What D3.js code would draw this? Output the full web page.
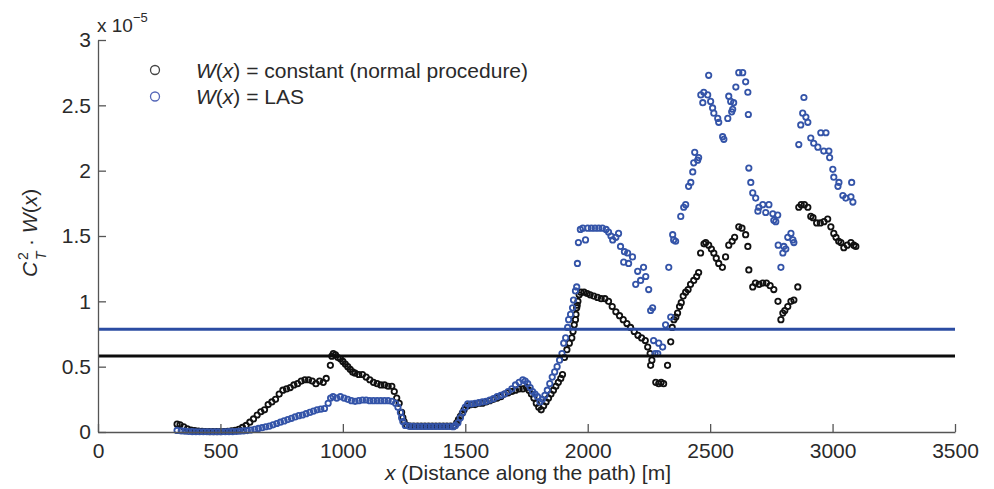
<!DOCTYPE html>
<html>
<head>
<meta charset="utf-8">
<script src="https://cdn.jsdelivr.net/npm/d3@7"></script>
<style>
  html, body { margin: 0; padding: 0; background: #fff; }
  svg { display: block; font-family: "Liberation Sans", Arial, Helvetica, sans-serif; }
</style>
</head>
<body>
<svg id="chart" width="994" height="489"></svg>
<script>
// C_T^2 * W(x) along the path, in units of 1e-5: [distance m, value]
const constWeight = [
  [323,0.06],[335,0.055],[350,0.04],[365,0.025],[380,0.015],[395,0.01],[410,0.006],[425,0.005],[440,0.004],[455,0.003],
  [470,0.003],[485,0.003],[500,0.003],[515,0.004],[530,0.005],[545,0.008],[560,0.012],[575,0.02],[590,0.035],[605,0.05],
  [620,0.075],[635,0.10],[650,0.13],[665,0.155],[680,0.17],[695,0.21],[710,0.23],[725,0.25],[740,0.29],[755,0.32],
  [770,0.33],[785,0.34],[800,0.36],[815,0.37],[830,0.39],[845,0.40],[860,0.40],[875,0.39],[890,0.37],[905,0.39],
  [920,0.38],[932,0.41],[949,0.51],[955,0.58],[961,0.60],[970,0.59],[980,0.57],[990,0.56],[1000,0.54],[1010,0.52],
  [1020,0.50],[1030,0.48],[1040,0.46],[1050,0.45],[1065,0.44],[1080,0.44],[1095,0.42],[1110,0.40],[1125,0.38],[1140,0.37],
  [1155,0.36],[1170,0.36],[1185,0.35],[1200,0.35],[1210,0.31],[1220,0.26],[1230,0.22],[1240,0.15],[1245,0.11],[1250,0.08],
  [1260,0.05],[1275,0.045],[1290,0.045],[1305,0.045],[1320,0.045],[1335,0.045],[1350,0.045],[1365,0.045],[1380,0.045],
  [1395,0.045],[1410,0.045],[1425,0.045],[1440,0.045],[1455,0.045],[1465,0.07],[1472,0.095],[1480,0.12],[1488,0.145],[1495,0.17],[1510,0.20],
  [1525,0.21],[1540,0.21],[1555,0.22],[1570,0.22],[1585,0.23],[1600,0.24],[1615,0.25],[1630,0.26],[1645,0.27],[1660,0.29],
  [1675,0.30],[1690,0.31],[1705,0.32],[1720,0.33],[1735,0.33],[1750,0.34],[1760,0.32],[1770,0.29],[1780,0.26],[1790,0.22],
  [1800,0.19],[1810,0.17],[1820,0.20],[1830,0.23],[1840,0.26],[1850,0.29],[1860,0.32],[1870,0.35],[1880,0.38],[1890,0.41],
  [1897,0.44],[1905,0.57],[1915,0.63],[1925,0.68],[1935,0.72],[1940,0.77],[1945,0.82],[1950,0.86],[1952,0.90],[1955,0.95],
  [1957,0.97],[1960,1.00],[1965,1.05],[1972,1.07],[1985,1.07],[1998,1.06],[2010,1.05],[2025,1.04],[2040,1.03],[2055,1.02],
  [2070,1.02],[2085,1.00],[2100,0.96],[2115,0.92],[2130,0.89],[2145,0.86],[2160,0.83],[2175,0.80],[2190,0.77],[2205,0.74],
  [2220,0.72],[2235,0.70],[2245,0.65],[2255,0.60],[2262,0.55],[2257,0.51],[2278,0.38],[2290,0.37],[2300,0.38],[2310,0.37],
  [2326,0.51],[2339,0.69],[2345,0.80],[2352,0.86],[2360,0.88],[2367,0.91],[2375,0.96],[2382,0.99],[2390,1.04],[2400,1.07],
  [2410,1.09],[2420,1.13],[2433,1.16],[2445,1.19],[2453,1.22],[2461,1.37],[2475,1.44],[2482,1.45],[2494,1.43],[2505,1.40],
  [2515,1.37],[2525,1.33],[2535,1.29],[2550,1.26],[2563,1.34],[2576,1.43],[2590,1.46],[2600,1.49],[2617,1.57],[2630,1.56],
  [2645,1.51],[2654,1.42],[2658,1.24],[2674,1.11],[2685,1.14],[2700,1.13],[2715,1.14],[2730,1.14],[2745,1.12],[2760,1.09],
  [2777,1.00],[2789,0.86],[2797,0.91],[2805,0.93],[2817,0.96],[2830,1.00],[2842,1.01],[2858,1.11],[2862,1.72],[2872,1.74],
  [2885,1.74],[2899,1.72],[2911,1.65],[2920,1.64],[2935,1.60],[2950,1.60],[2965,1.61],[2980,1.63],[2993,1.57],[3005,1.52],
  [3014,1.49],[3025,1.46],[3034,1.45],[3046,1.41],[3060,1.43],[3075,1.45],[3087,1.43],[3095,1.42]
];

const lasWeight = [
  [323,0.012],[340,0.009],[355,0.006],[370,0.004],[385,0.003],[400,0.002],[415,0.002],[430,0.002],[445,0.002],[460,0.002],
  [475,0.002],[490,0.002],[505,0.002],[520,0.002],[535,0.003],[550,0.003],[565,0.004],[580,0.006],[595,0.008],[610,0.011],
  [625,0.015],[640,0.02],[655,0.027],[670,0.033],[685,0.04],[700,0.045],[715,0.055],[730,0.065],[745,0.075],[760,0.085],
  [775,0.095],[790,0.105],[805,0.115],[820,0.125],[835,0.13],[850,0.14],[865,0.15],[880,0.16],[895,0.17],[910,0.175],
  [925,0.18],[940,0.22],[950,0.26],[960,0.27],[975,0.26],[990,0.27],[1005,0.26],[1020,0.25],[1035,0.24],[1050,0.235],
  [1065,0.24],[1080,0.245],[1095,0.245],[1110,0.24],[1125,0.24],[1140,0.24],[1155,0.24],[1170,0.24],[1185,0.24],[1200,0.235],
  [1215,0.22],[1225,0.19],[1235,0.15],[1240,0.11],[1245,0.08],[1255,0.05],[1270,0.045],[1285,0.043],[1300,0.042],[1315,0.042],[1330,0.042],
  [1345,0.042],[1360,0.042],[1375,0.042],[1390,0.042],[1405,0.042],[1420,0.042],[1435,0.042],[1450,0.04],[1460,0.05],[1470,0.07],
  [1480,0.11],[1490,0.15],[1500,0.19],[1510,0.215],[1525,0.215],[1540,0.22],[1555,0.225],[1570,0.23],[1585,0.235],[1600,0.245],
  [1615,0.255],[1630,0.27],[1645,0.28],[1660,0.29],[1675,0.31],[1690,0.33],[1705,0.36],[1720,0.38],[1735,0.40],[1745,0.39],
  [1755,0.37],[1765,0.34],[1775,0.31],[1785,0.29],[1795,0.27],[1805,0.23],[1815,0.25],[1825,0.28],[1835,0.32],[1845,0.37],
  [1855,0.42],[1865,0.46],[1875,0.50],[1885,0.55],[1895,0.60],[1902,0.68],[1910,0.72],[1918,0.80],[1922,0.86],[1930,0.90],
  [1938,0.95],[1942,1.01],[1950,1.08],[1955,1.11],[1958,1.29],[1962,1.45],[1970,1.55],[1980,1.56],[1991,1.47],[2000,1.56],
  [2015,1.56],[2030,1.56],[2045,1.56],[2060,1.56],[2075,1.55],[2085,1.53],[2095,1.50],[2102,1.47],[2115,1.49],[2126,1.52],
  [2134,1.42],[2147,1.30],[2150,1.38],[2163,1.37],[2167,1.29],[2183,1.34],[2196,1.13],[2204,1.23],[2216,1.16],[2228,1.26],
  [2237,1.19],[2249,1.09],[2257,0.93],[2265,0.95],[2269,0.70],[2275,0.60],[2286,0.60],[2290,0.68],[2306,0.65],[2318,0.82],
  [2331,1.26],[2339,0.88],[2347,1.51],[2351,1.47],[2359,1.46],[2380,1.65],[2392,1.72],[2400,1.74],[2412,1.88],[2421,1.91],
  [2429,1.99],[2433,2.06],[2437,2.14],[2449,2.08],[2453,2.10],[2462,2.58],[2470,2.52],[2474,2.60],[2490,2.58],[2494,2.73],
  [2502,2.53],[2510,2.48],[2515,2.44],[2531,2.40],[2535,2.37],[2551,2.26],[2556,2.24],[2572,2.40],[2576,2.57],[2584,2.53],
  [2588,2.45],[2592,2.47],[2596,2.52],[2605,2.64],[2617,2.75],[2633,2.75],[2645,2.68],[2654,2.60],[2656,2.43],[2658,2.02],
  [2666,1.91],[2674,1.83],[2686,1.79],[2695,1.69],[2699,1.72],[2715,1.74],[2727,1.68],[2740,1.74],[2756,1.67],[2760,1.62],
  [2768,1.61],[2776,1.66],[2778,1.43],[2789,1.26],[2797,1.37],[2801,1.42],[2809,1.40],[2817,1.49],[2830,1.52],[2838,1.47],
  [2842,1.45],[2862,2.20],[2870,2.35],[2878,2.44],[2883,2.56],[2891,2.41],[2899,2.37],[2911,2.25],[2923,2.21],[2940,2.18],
  [2952,2.29],[2964,2.15],[2973,2.29],[2985,2.15],[2988,2.10],[3001,2.01],[3005,1.95],[3022,1.88],[3026,1.91],[3042,1.81],
  [3054,1.79],[3075,1.80],[3078,1.91],[3083,1.76]
];

// path averages of each weighting (same units)
const pathMeans = [0.582, 0.786];
const seriesColors = ["#111111", "#3454a8"];
const meanColors = ["#0c0c0c", "#2b4ca2"];
const legendLabels = ["constant (normal procedure)", "LAS"];

const xTicks = [0, 500, 1000, 1500, 2000, 2500, 3000, 3500];
const yTicks = [0, 0.5, 1, 1.5, 2, 2.5, 3];

const svg = d3.select("#chart");
const FONT = 21;
const textColor = "#2a2a2a";
const axisColor = "#555";

const x = d3.scaleLinear().domain([0, 3500]).range([98, 955]);
const y = d3.scaleLinear().domain([0, 3]).range([432, 40]);

// markers
const series = [constWeight, lasWeight];
series.forEach((pts, i) => {
  svg.append("g")
    .selectAll("circle")
    .data(pts)
    .join("circle")
    .attr("cx", d => x(d[0]))
    .attr("cy", d => y(d[1]))
    .attr("r", 2.7)
    .attr("fill", "none")
    .attr("stroke", seriesColors[i])
    .attr("stroke-width", 1.8);
});

// mean lines
svg.append("g")
  .selectAll("line")
  .data(pathMeans)
  .join("line")
  .attr("x1", x(0))
  .attr("x2", x(3500))
  .attr("y1", d => y(d))
  .attr("y2", d => y(d))
  .attr("stroke", (d, i) => meanColors[i])
  .attr("stroke-width", 3);

// axes
const xAxis = d3.axisBottom(x)
  .tickValues(xTicks)
  .tickFormat(d3.format("d"))
  .tickSizeInner(-8)
  .tickSizeOuter(0)
  .tickPadding(11);
const yAxis = d3.axisLeft(y)
  .tickValues(yTicks)
  .tickFormat(d3.format("~g"))
  .tickSizeInner(-8)
  .tickSizeOuter(0)
  .tickPadding(7);

const gx = svg.append("g").attr("transform", `translate(0,${y(0)})`).call(xAxis);
const gy = svg.append("g").attr("transform", `translate(${x(0)},0)`).call(yAxis);
[gx, gy].forEach(g => {
  g.selectAll("path, line").attr("stroke", axisColor).attr("stroke-width", 1.3);
  g.selectAll("text").attr("font-size", FONT).attr("fill", textColor)
    .attr("font-family", "Liberation Sans, Arial, sans-serif");
});

// exponent label
const expo = svg.append("text").attr("x", 97).attr("y", 32)
  .attr("font-size", FONT - 2).attr("fill", textColor);
expo.append("tspan").text("x 10");
expo.append("tspan").attr("dy", -10).attr("font-size", 13).text("\u22125");

// x label
const xl = svg.append("text").attr("x", 528).attr("y", 480)
  .attr("text-anchor", "middle").attr("font-size", FONT).attr("fill", textColor);
xl.append("tspan").attr("font-style", "italic").text("x");
xl.append("tspan").text(" (Distance along the path) [m]");

// y label
const yl = svg.append("g").attr("transform", "translate(37,277) rotate(-90)")
  .attr("fill", textColor);
yl.append("text").attr("x", 0).attr("y", 0).attr("font-size", FONT)
  .attr("font-style", "italic").text("C");
yl.append("text").attr("x", 17).attr("y", -9).attr("font-size", 14).text("2");
yl.append("text").attr("x", 17).attr("y", 9).attr("font-size", 14)
  .attr("font-style", "italic").text("T");
const ylr = yl.append("text").attr("x", 31).attr("y", 0).attr("font-size", FONT);
ylr.append("tspan").text("\u00b7 ");
ylr.append("tspan").attr("font-style", "italic").text("W");
ylr.append("tspan").text("(");
ylr.append("tspan").attr("font-style", "italic").text("x");
ylr.append("tspan").text(")");

// legend
const legend = svg.append("g");
legendLabels.forEach((lab, i) => {
  const cy = 70 + i * 26.5;
  legend.append("circle").attr("cx", 155).attr("cy", cy).attr("r", 4.5)
    .attr("fill", "none").attr("stroke", i === 0 ? "#444" : "#5567b8").attr("stroke-width", 1.3);
  const t = legend.append("text").attr("x", 196).attr("y", cy + 7.5)
    .attr("font-size", FONT).attr("fill", textColor);
  t.append("tspan").attr("font-style", "italic").text("W");
  t.append("tspan").text("(");
  t.append("tspan").attr("font-style", "italic").text("x");
  t.append("tspan").text(") = " + lab);
});
</script>
</body>
</html>
